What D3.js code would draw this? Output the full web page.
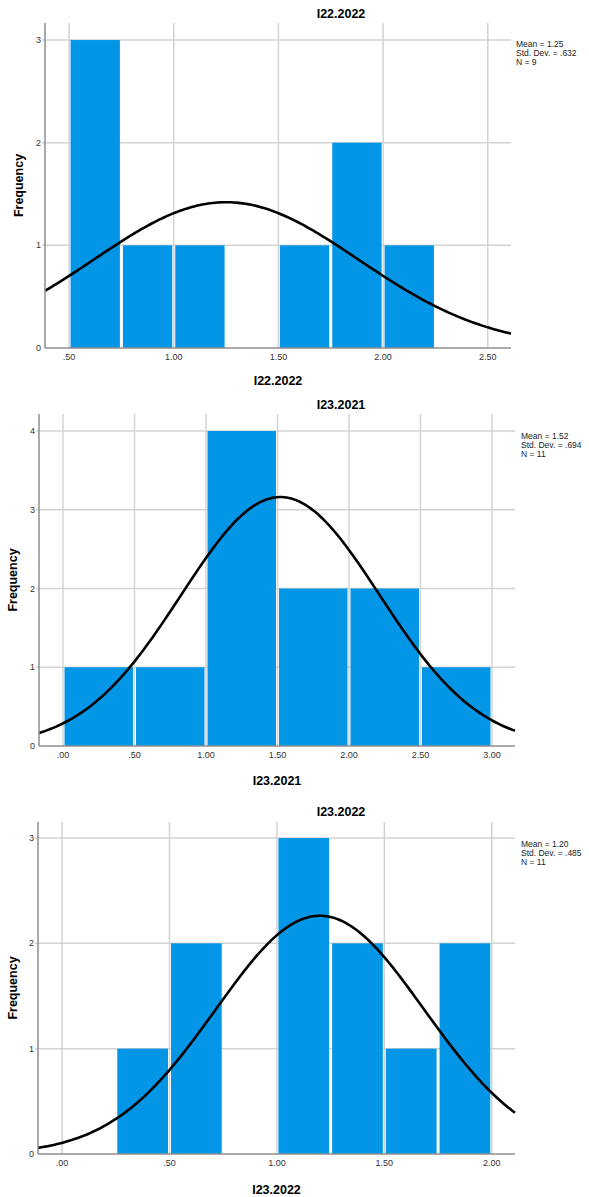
<!DOCTYPE html>
<html>
<head>
<meta charset="utf-8">
<script src="https://cdn.jsdelivr.net/npm/d3@7"></script>
<style>
  body { margin: 0; background: #fff; }
  svg { display: block; font-family: Arial, "Liberation Sans", sans-serif; }
</style>
</head>
<body>
<div id="chart"></div>
<script>
// three SPSS style histograms with normal curve

const width = 589;
const height = 1197;

// ---- data ----
const titles = ["I22.2022", "I23.2021", "I23.2022"];

// bin edges per histogram
const binEdges1 = [0.50, 0.75, 1.00, 1.25, 1.50, 1.75, 2.00, 2.25];
const binEdges2 = [0.00, 0.50, 1.00, 1.50, 2.00, 2.50, 3.00];
const binEdges3 = [0.25, 0.50, 0.75, 1.00, 1.25, 1.50, 1.75, 2.00];

// frequencies per bin
const counts1 = [3, 1, 1, 0, 1, 2, 1];
const counts2 = [1, 1, 4, 2, 2, 1];
const counts3 = [1, 2, 0, 3, 2, 1, 2];

// stats shown at the right
const means = [1.25, 1.52, 1.20];
const stdDevs = [0.632, 0.694, 0.485];
const ns = [9, 11, 11];
const meanLabels = ["1.25", "1.52", "1.20"];
const sdLabels = [".632", ".694", ".485"];

// axis ticks
const xTicks1 = [0.5, 1.0, 1.5, 2.0, 2.5];
const xTicks2 = [0, 0.5, 1.0, 1.5, 2.0, 2.5, 3.0];
const xTicks3 = [0, 0.5, 1.0, 1.5, 2.0];
const yTicks1 = [0, 1, 2, 3];
const yTicks2 = [0, 1, 2, 3, 4];
const yTicks3 = [0, 1, 2, 3];

// ---- layout of each panel ----
const panels = [
  {edges: binEdges1, counts: counts1, xTicks: xTicks1, yTicks: yTicks1,
   left: 45, right: 511, top: 23, bottom: 348, xDom: [0.385, 2.611], yMax: 3.166,
   titleY: 13, xTitleY: 380, yTitleX: 18, statsX: 516, statsY: 44},
  {edges: binEdges2, counts: counts2, xTicks: xTicks2, yTicks: yTicks2,
   left: 39, right: 515, top: 414, bottom: 746, xDom: [-0.168, 3.161], yMax: 4.216,
   titleY: 404, xTitleY: 780, yTitleX: 12, statsX: 521, statsY: 436},
  {edges: binEdges3, counts: counts3, xTicks: xTicks3, yTicks: yTicks3,
   left: 38, right: 515, top: 822, bottom: 1154, xDom: [-0.112, 2.108], yMax: 3.152,
   titleY: 811, xTitleY: 1189, yTitleX: 12, statsX: 521, statsY: 844}
];

const barColor = "#0396e6";
const gridColor = "#d3d3d3";
const axisColor = "#8e8e8e";

const svg = d3.select("#chart")
  .append("svg")
  .attr("width", width)
  .attr("height", height);

// ".50" style labels like SPSS
const fmt = v => d3.format(".2f")(v).replace(/^0\./, ".");

panels.forEach((p, i) => {
  const g = svg.append("g");

  const x = d3.scaleLinear().domain(p.xDom).range([p.left, p.right]);
  const y = d3.scaleLinear().domain([0, p.yMax]).range([p.bottom, p.top]);

  // vertical grid
  g.selectAll(".vgrid")
    .data(p.xTicks)
    .enter().append("line")
      .attr("x1", d => x(d)).attr("x2", d => x(d))
      .attr("y1", p.top).attr("y2", p.bottom)
      .attr("stroke", gridColor).attr("stroke-width", 1.5);

  // horizontal grid + small ticks
  g.selectAll(".hgrid")
    .data(p.yTicks.filter(d => d > 0))
    .enter().append("line")
      .attr("x1", p.left - 3).attr("x2", p.right)
      .attr("y1", d => y(d)).attr("y2", d => y(d))
      .attr("stroke", gridColor).attr("stroke-width", 1.5);

  // bars
  const bins = p.counts.map((c, j) => ({x0: p.edges[j], x1: p.edges[j + 1], c: c}));
  g.selectAll(".bar")
    .data(bins.filter(d => d.c > 0))
    .enter().append("rect")
      .attr("x", d => x(d.x0) + 1.5)
      .attr("width", d => x(d.x1) - x(d.x0) - 3)
      .attr("y", d => y(d.c))
      .attr("height", d => y(0) - y(d.c))
      .attr("fill", barColor);

  // fitted normal curve (N * bin width * pdf)
  const bw = p.edges[1] - p.edges[0];
  const m = means[i], s = stdDevs[i];
  const normal = v => ns[i] * bw * Math.exp(-0.5 * ((v - m) / s) ** 2) / (s * Math.sqrt(2 * Math.PI));
  const xs = d3.range(0, 201).map(k => p.xDom[0] + (p.xDom[1] - p.xDom[0]) * k / 200);
  g.append("path")
    .datum(xs)
    .attr("d", d3.line().x(d => x(d)).y(d => y(normal(d))))
    .attr("fill", "none")
    .attr("stroke", "#000")
    .attr("stroke-width", 2.6);

  // axis lines
  g.append("line")
    .attr("x1", p.left).attr("x2", p.left)
    .attr("y1", p.top).attr("y2", p.bottom)
    .attr("stroke", axisColor).attr("stroke-width", 1.5);
  g.append("line")
    .attr("x1", p.left).attr("x2", p.right)
    .attr("y1", p.bottom).attr("y2", p.bottom)
    .attr("stroke", axisColor).attr("stroke-width", 1.5);

  // tick labels
  g.selectAll(".ylab")
    .data(p.yTicks)
    .enter().append("text")
      .attr("x", p.left - 4)
      .attr("y", d => y(d) + 3)
      .attr("text-anchor", "end")
      .attr("font-size", 9)
      .attr("fill", "#333")
      .text(d => d);

  g.selectAll(".xlab")
    .data(p.xTicks)
    .enter().append("text")
      .attr("x", d => x(d))
      .attr("y", p.bottom + 12)
      .attr("text-anchor", "middle")
      .attr("font-size", 9)
      .attr("fill", "#333")
      .text(d => fmt(d));

  // titles
  g.append("text")
    .attr("x", 341).attr("y", p.titleY + 4.5)
    .attr("text-anchor", "middle")
    .attr("font-size", 12.5).attr("font-weight", "bold")
    .text(titles[i]);

  g.append("text")
    .attr("x", (p.left + p.right) / 2).attr("y", p.xTitleY + 4.5)
    .attr("text-anchor", "middle")
    .attr("font-size", 12.5).attr("font-weight", "bold")
    .text(titles[i]);

  g.append("text")
    .attr("transform", `translate(${p.yTitleX + 4.5},${(p.top + p.bottom) / 2}) rotate(-90)`)
    .attr("text-anchor", "middle")
    .attr("font-size", 12.5).attr("font-weight", "bold")
    .text("Frequency");

  // stats box
  const lines = ["Mean = " + meanLabels[i], "Std. Dev. = " + sdLabels[i], "N = " + ns[i]];
  g.selectAll(".stat")
    .data(lines)
    .enter().append("text")
      .attr("x", p.statsX)
      .attr("y", (d, k) => p.statsY + 3 + k * 8.8)
      .attr("font-size", 8.5)
      .attr("fill", "#222")
      .text(d => d);
});
</script>
</body>
</html>
